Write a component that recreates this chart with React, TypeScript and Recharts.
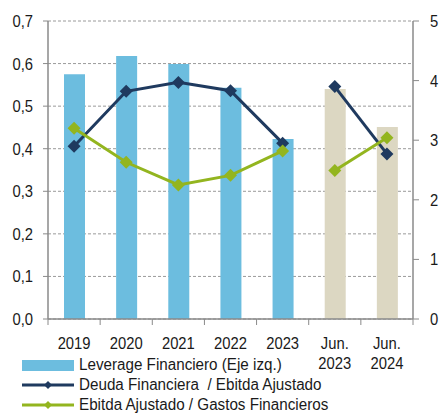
import { ComposedChart, Bar, Line, XAxis, YAxis, CartesianGrid, Cell } from "recharts";

const categories = ["2019", "2020", "2021", "2022", "2023", "Jun. 2023", "Jun. 2024"];
// Leverage financiero (eje izquierdo)
const leverage = [0.575, 0.618, 0.599, 0.543, 0.423, 0.54, 0.451];
// Deuda financiera / Ebitda ajustado (eje derecho)
const deudaEbitda = [2.9, 3.82, 3.97, 3.83, 2.95, 3.9, 2.77];
// Ebitda ajustado / Gastos financieros (eje derecho)
const ebitdaGastos = [3.2, 2.63, 2.25, 2.41, 2.82, 2.49, 3.04];
// 0 = cierre anual, 1 = periodo intermedio (la línea se corta entre ambos)
const periodType = [0, 0, 0, 0, 0, 1, 1];
const leftTicks = [0, 0.1, 0.2, 0.3, 0.4, 0.5, 0.6, 0.7];
const rightTicks = [0, 1, 2, 3, 4, 5];

const W = 441;
const H = 413;
const LEFT_W = 48;
const RIGHT_W = 28;
const BAND = (W - LEFT_W - RIGHT_W) / categories.length;

const BLUE = "#6CBDDF";
const BEIGE = "#DCD7C2";
const NAVY = "#1F3A5F";
const GREEN = "#93B51F";
const AXIS = "#8a8a8a";
const TEXT = "#1a1a1a";
const FONT = "'Liberation Sans', Arial, sans-serif";
const TICK_FS = 17;
const TICK_SX = 0.87; // the original uses a narrow typeface

const data = categories.map((c, i) => ({
  name: c,
  leverage: leverage[i],
  deudaA: periodType[i] === 0 ? deudaEbitda[i] : null,
  deudaB: periodType[i] === 1 ? deudaEbitda[i] : null,
  ebitdaA: periodType[i] === 0 ? ebitdaGastos[i] : null,
  ebitdaB: periodType[i] === 1 ? ebitdaGastos[i] : null,
}));

const fmt = (v: number) => v.toFixed(1).replace(".", ",");

function diamond(color: string) {
  return (props: any) => {
    const { cx, cy, index } = props;
    if (cx == null || cy == null || props.value == null) return <g key={index} />;
    const r = 6.5;
    return (
      <polygon
        key={index}
        points={`${cx},${cy - r} ${cx + r},${cy} ${cx},${cy + r} ${cx - r},${cy}`}
        fill={color}
      />
    );
  };
}

function NarrowText({ x, y, anchor, children }: any) {
  return (
    <text
      transform={`translate(${x},${y}) scale(${TICK_SX},1)`}
      textAnchor={anchor}
      fill={TEXT}
      fontSize={TICK_FS}
      fontFamily={FONT}
    >
      {children}
    </text>
  );
}

function XTick(props: any) {
  const { x, y, payload, index } = props;
  const lines = String(payload.value).split(" ");
  const last = index === categories.length - 1;
  return (
    <g>
      <line x1={x - BAND / 2} x2={x - BAND / 2} y1={y} y2={y + 6} stroke={AXIS} />
      {last && <line x1={x + BAND / 2} x2={x + BAND / 2} y1={y} y2={y + 6} stroke={AXIS} />}
      {lines.map((l, i) => (
        <NarrowText key={i} x={x} y={y + 30 + i * 19.5} anchor="middle">
          {l}
        </NarrowText>
      ))}
    </g>
  );
}

function LeftTick(props: any) {
  const { x, y, payload } = props;
  return (
    <NarrowText x={x} y={y + 6} anchor="end">
      {fmt(payload.value)}
    </NarrowText>
  );
}

function RightTick(props: any) {
  const { x, y, payload } = props;
  return (
    <NarrowText x={x} y={y + 6} anchor="start">
      {payload.value}
    </NarrowText>
  );
}

function LineIcon({ color }: { color: string }) {
  return (
    <svg width={52} height={10} style={{ display: "block" }}>
      <line x1={0} x2={52} y1={5} y2={5} stroke={color} strokeWidth={3} />
      <polygon points="26,1 30,5 26,9 22,5" fill={color} />
    </svg>
  );
}

function LegendLabel({ children }: any) {
  return (
    <span style={{ display: "inline-block", transform: "scaleX(0.95)", transformOrigin: "left center" }}>
      {children}
    </span>
  );
}

export default function App() {
  const rowStyle: React.CSSProperties = {
    position: "absolute",
    left: 22,
    display: "flex",
    alignItems: "center",
    height: 20,
    fontSize: 16,
    color: TEXT,
    fontFamily: FONT,
    whiteSpace: "nowrap",
  };
  return (
    <div style={{ position: "absolute", left: 0, top: 0, width: W, height: H, background: "#fff" }}>
      <ComposedChart
        width={W}
        height={H}
        data={data}
        margin={{ top: 21, right: 0, left: 0, bottom: 44 }}
        barCategoryGap={0}
      >
        <CartesianGrid yAxisId="left" vertical={false} stroke="#9a9a9a" strokeDasharray="3 2" />
        <XAxis
          dataKey="name"
          height={50}
          interval={0}
          tickLine={false}
          tickSize={0}
          tickMargin={0}
          axisLine={{ stroke: AXIS, strokeWidth: 1.5 }}
          tick={<XTick />}
        />
        <YAxis
          yAxisId="left"
          width={LEFT_W}
          domain={[0, 0.7]}
          ticks={leftTicks}
          tickSize={5}
          tickMargin={10}
          tickLine={{ stroke: AXIS }}
          axisLine={{ stroke: AXIS, strokeWidth: 1.5 }}
          tick={<LeftTick />}
          interval={0}
        />
        <YAxis
          yAxisId="right"
          orientation="right"
          width={RIGHT_W}
          domain={[0, 5]}
          ticks={rightTicks}
          tickSize={6}
          tickMargin={11}
          tickLine={{ stroke: AXIS }}
          axisLine={{ stroke: AXIS, strokeWidth: 1.5 }}
          tick={<RightTick />}
          interval={0}
        />
        <Bar yAxisId="left" dataKey="leverage" barSize={21} isAnimationActive={false}>
          {data.map((d, i) => (
            <Cell key={d.name} fill={periodType[i] === 0 ? BLUE : BEIGE} />
          ))}
        </Bar>
        <Line yAxisId="right" dataKey="deudaA" stroke={NAVY} strokeWidth={3} dot={diamond(NAVY)} activeDot={false} isAnimationActive={false} />
        <Line yAxisId="right" dataKey="deudaB" stroke={NAVY} strokeWidth={3} dot={diamond(NAVY)} activeDot={false} isAnimationActive={false} />
        <Line yAxisId="right" dataKey="ebitdaA" stroke={GREEN} strokeWidth={3} dot={diamond(GREEN)} activeDot={false} isAnimationActive={false} />
        <Line yAxisId="right" dataKey="ebitdaB" stroke={GREEN} strokeWidth={3} dot={diamond(GREEN)} activeDot={false} isAnimationActive={false} />
      </ComposedChart>
      <div style={{ ...rowStyle, top: 355 }}>
        <div style={{ width: 52, height: 11, background: BLUE, marginRight: 5 }} />
        <LegendLabel>Leverage Financiero (Eje izq.)</LegendLabel>
      </div>
      <div style={{ ...rowStyle, top: 375 }}>
        <div style={{ marginRight: 5 }}>
          <LineIcon color={NAVY} />
        </div>
        <LegendLabel>Deuda Financiera&nbsp; / Ebitda Ajustado</LegendLabel>
      </div>
      <div style={{ ...rowStyle, top: 395 }}>
        <div style={{ marginRight: 5 }}>
          <LineIcon color={GREEN} />
        </div>
        <LegendLabel>Ebitda Ajustado / Gastos Financieros</LegendLabel>
      </div>
    </div>
  );
}
